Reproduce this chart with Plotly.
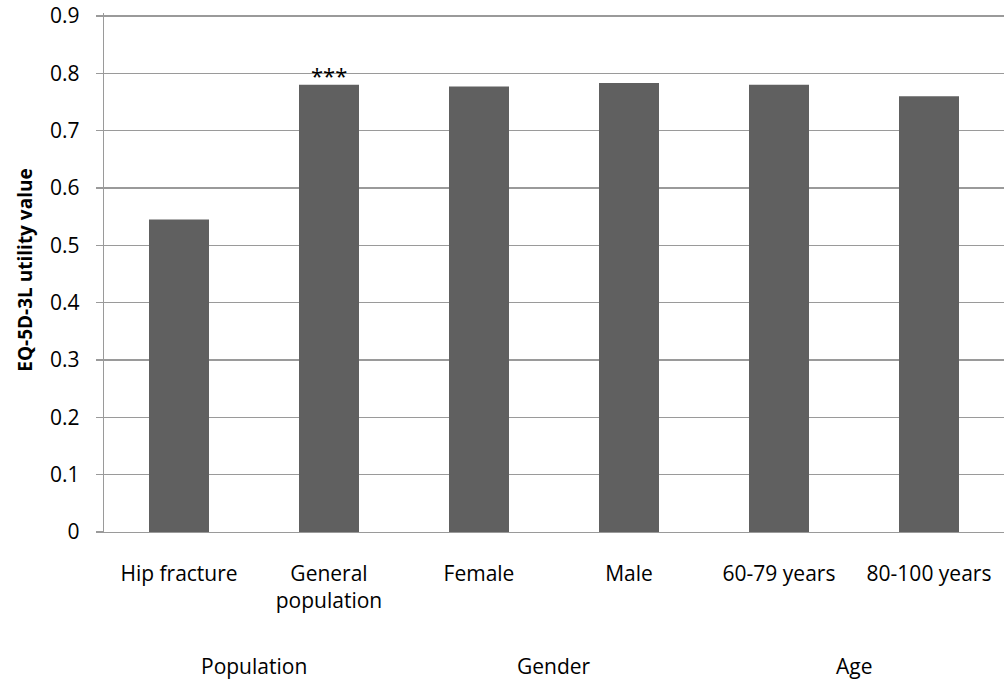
import plotly.graph_objects as go

categories = ["Hip fracture", "General<br>population", "Female", "Male", "60-79 years", "80-100 years"]
values = [0.545, 0.780, 0.777, 0.783, 0.780, 0.760]
groups = ["Population", "Gender", "Age"]
group_centers = [0.5, 2.5, 4.5]
significance = "***"
sig_index = 1
y_ticks = [0, 0.1, 0.2, 0.3, 0.4, 0.5, 0.6, 0.7, 0.8, 0.9]

FONT = "Open Sans, Liberation Sans, sans-serif"
GRID = "#9a9a9a"

x_pos = list(range(len(categories)))

fig = go.Figure()
fig.add_trace(go.Bar(
    x=x_pos, y=values,
    marker=dict(color="#606060", line=dict(width=0)),
    width=0.4,
    hoverinfo="skip",
))

fig.add_annotation(
    x=x_pos[sig_index], y=values[sig_index], xref="x", yref="y",
    text=significance, showarrow=False, yanchor="bottom", yshift=-7,
    font=dict(family=FONT, size=22, color="#000000"),
)

for g, c in zip(groups, group_centers):
    fig.add_annotation(
        x=c, y=-0.2583, xref="x", yref="paper", text=g, showarrow=False,
        yanchor="middle", xanchor="center",
        font=dict(family=FONT, size=21, color="#000000"),
    )

fig.add_annotation(
    x=-0.088, y=0.505, xref="paper", yref="paper",
    text="<b>EQ-5D-3L utility value</b>", textangle=-90, showarrow=False,
    xanchor="center", yanchor="middle",
    font=dict(family=FONT, size=19, color="#000000"),
)

fig.update_layout(
    width=1004, height=680,
    margin=dict(l=104, r=0, t=13, b=148, autoexpand=False),
    paper_bgcolor="white", plot_bgcolor="white",
    showlegend=False,
    font=dict(family=FONT, size=21, color="#000000"),
)
fig.update_xaxes(
    range=[-0.5, 5.5], tickmode="array", tickvals=x_pos, ticktext=categories,
    showgrid=False, showline=True, linecolor=GRID, linewidth=1.3,
    ticks="", ticklabelstandoff=22, zeroline=False, automargin=False,
    tickfont=dict(family=FONT, size=21, color="#000000"),
)
fig.update_yaxes(
    range=[0, 0.905], tickmode="array", tickvals=y_ticks,
    ticktext=[("%g" % v) for v in y_ticks],
    showgrid=True, gridcolor=GRID, gridwidth=1.3,
    showline=True, linecolor=GRID, linewidth=1.3,
    ticks="outside", ticklen=7, tickcolor=GRID, tickwidth=1.3,
    ticklabelstandoff=12, zeroline=False, automargin=False,
    tickfont=dict(family=FONT, size=21, color="#000000"),
)

fig.write_html(
    "out.html",
    config={"displayModeBar": False, "staticPlot": True},
    post_script="document.body.style.margin='0';document.body.style.overflow='hidden';",
)
